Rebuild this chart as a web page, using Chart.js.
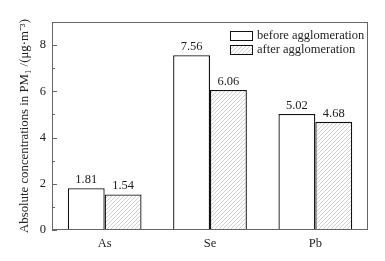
<!DOCTYPE html>
<html>
<head>
<meta charset="utf-8">
<script src="https://cdn.jsdelivr.net/npm/chart.js@4/dist/chart.umd.min.js"></script>
<style>
  html, body { margin: 0; padding: 0; background: #fff; }
  #wrap { width: 385px; height: 261px; }
</style>
</head>
<body>
<div id="wrap"><canvas id="myChart" width="385" height="261"></canvas></div>
<script>
const elements = ['As', 'Se', 'Pb'];
const beforeVals = [1.81, 7.56, 5.02];
const afterVals = [1.54, 6.06, 4.68];
const seriesNames = ['before agglomeration', 'after agglomeration'];

const FONT = "'Liberation Serif', 'Times New Roman', serif";

// hatch pattern for "after"
const pc = document.createElement('canvas');
pc.width = 4; pc.height = 4;
const p = pc.getContext('2d');
p.fillStyle = '#fff';
p.fillRect(0, 0, 4, 4);
p.strokeStyle = '#c4c4c4';
p.lineWidth = 0.8;
p.beginPath();
p.moveTo(0, 4); p.lineTo(4, 0);
p.moveTo(-1, 1); p.lineTo(1, -1);
p.moveTo(3, 5); p.lineTo(5, 3);
p.stroke();
const hatch = document.getElementById('myChart').getContext('2d').createPattern(pc, 'repeat');

const extras = {
  id: 'extras',
  afterDatasetsDraw(chart) {
    const ctx = chart.ctx;
    const a = chart.chartArea;
    const y = chart.scales.y;
    ctx.save();
    // frame
    ctx.strokeStyle = '#666';
    ctx.lineWidth = 1;
    ctx.strokeRect(a.left + 0.5, a.top + 0.5, a.right - a.left - 1, a.bottom - a.top - 1);
    // inward ticks
    y.ticks.forEach(t => {
      if (t.value > 9) return;
      const py = Math.round(y.getPixelForValue(t.value)) + 0.5;
      const len = t.value % 2 === 0 ? 5 : 3;
      ctx.beginPath();
      ctx.moveTo(a.left, py);
      ctx.lineTo(a.left + len, py);
      ctx.stroke();
    });
    // value labels
    ctx.fillStyle = '#222';
    ctx.font = '12.5px ' + FONT;
    ctx.textAlign = 'center';
    ctx.textBaseline = 'bottom';
    chart.data.datasets.forEach((ds, di) => {
      chart.getDatasetMeta(di).data.forEach((bar, i) => {
        ctx.fillText(ds.data[i].toFixed(2), bar.x, bar.y - 2);
      });
    });
    // legend
    const lx = a.right - 138, ly = a.top + 9;
    chart.data.datasets.forEach((ds, di) => {
      const yy = ly + di * 14;
      ctx.fillStyle = ds.backgroundColor;
      ctx.fillRect(lx, yy, 22, 9);
      ctx.strokeStyle = '#111';
      ctx.lineWidth = 1;
      ctx.strokeRect(lx + 0.5, yy + 0.5, 22, 9);
      ctx.fillStyle = '#222';
      ctx.textAlign = 'left';
      ctx.textBaseline = 'middle';
      ctx.fillText(ds.label, lx + 27, yy + 5);
    });
    ctx.restore();
  }
};

new Chart(document.getElementById('myChart'), {
  type: 'bar',
  data: {
    labels: elements,
    datasets: [
      { label: seriesNames[0], data: beforeVals, backgroundColor: '#fff', borderColor: '#111', borderWidth: 1.3 },
      { label: seriesNames[1], data: afterVals, backgroundColor: hatch, borderColor: '#111', borderWidth: 1.3 }
    ]
  },
  options: {
    responsive: false,
    animation: false,
    layout: { padding: { top: 22, right: 17, left: 0, bottom: 0 } },
    datasets: { bar: { barPercentage: 1, categoryPercentage: 0.7 } },
    plugins: { legend: { display: false }, tooltip: { enabled: false } },
    scales: {
      x: {
        grid: { display: false, drawTicks: false },
        border: { display: false },
        ticks: { color: '#222', font: { family: FONT, size: 12.5 }, padding: 6 },
        afterFit(s) { s.height = 31; }
      },
      y: {
        min: 0, max: 9,
        grid: { display: false, drawTicks: false },
        border: { display: false },
        ticks: {
          stepSize: 1,
          color: '#222',
          font: { family: FONT, size: 12.5 },
          padding: 6,
          callback: v => (v % 2 === 0 ? v : '')
        },
        title: {
          display: true,
          text: 'Absolute concentrations in PM\u2081 /(\u03bcg\u00b7m\u207b\u00b3)',
          color: '#222',
          font: { family: FONT, size: 12.8 },
          padding: { top: 17, bottom: 0 }
        },
        afterFit(s) { s.width = 52; }
      }
    }
  },
  plugins: [extras]
});
</script>
</body>
</html>
